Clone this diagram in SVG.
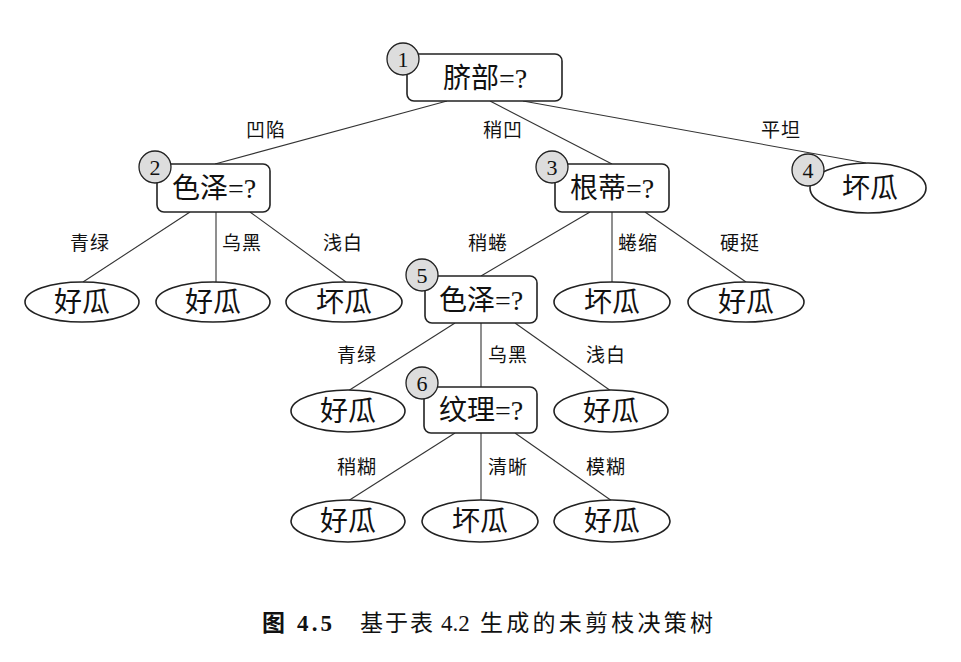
<svg xmlns="http://www.w3.org/2000/svg" width="961" height="662" viewBox="0 0 961 662">
<style>
.box{fill:#fff;stroke:#222;stroke-width:1.6}
.leaf{fill:#fff;stroke:#222;stroke-width:1.6}
.num{fill:#ddd;stroke:#222;stroke-width:1.3}
.numt{font-family:"Liberation Serif",serif;font-size:22px;fill:#111;text-anchor:middle}
.t{font-family:"Liberation Serif","Noto Sans CJK SC",serif;font-size:28px;fill:#111;text-anchor:middle}
.lbl{font-family:"Noto Sans CJK SC",sans-serif;font-size:19px;fill:#111;text-anchor:middle;letter-spacing:1px}
.edge{stroke:#333;stroke-width:1.1;fill:none}
.cap{font-family:"Liberation Serif","Noto Sans CJK SC",serif;font-size:23px;fill:#111}
</style>
<rect width="961" height="662" fill="#fff"/>
<g id="connectors">
<line class="edge" x1="447" y1="101" x2="215" y2="164"/>
<line class="edge" x1="490" y1="101" x2="612" y2="164"/>
<line class="edge" x1="523" y1="101" x2="866" y2="163"/>
<line class="edge" x1="190" y1="212" x2="83" y2="282"/>
<line class="edge" x1="216" y1="212" x2="216" y2="282"/>
<line class="edge" x1="250" y1="212" x2="346" y2="282"/>
<line class="edge" x1="590" y1="212" x2="481" y2="276"/>
<line class="edge" x1="612" y1="212" x2="612" y2="282"/>
<line class="edge" x1="645" y1="212" x2="746" y2="282"/>
<line class="edge" x1="455" y1="323" x2="348" y2="391"/>
<line class="edge" x1="481" y1="323" x2="481" y2="387"/>
<line class="edge" x1="515" y1="323" x2="611" y2="391"/>
<line class="edge" x1="455" y1="433" x2="348" y2="501"/>
<line class="edge" x1="481" y1="433" x2="481" y2="501"/>
<line class="edge" x1="515" y1="433" x2="612" y2="501"/>
<text class="lbl" x="266" y="137">凹陷</text>
<text class="lbl" x="503" y="137">稍凹</text>
<text class="lbl" x="781" y="137">平坦</text>
<text class="lbl" x="90" y="250">青绿</text>
<text class="lbl" x="242" y="250">乌黑</text>
<text class="lbl" x="343" y="250">浅白</text>
<text class="lbl" x="488" y="250">稍蜷</text>
<text class="lbl" x="638" y="250">蜷缩</text>
<text class="lbl" x="740" y="250">硬挺</text>
<text class="lbl" x="357" y="362">青绿</text>
<text class="lbl" x="508" y="362">乌黑</text>
<text class="lbl" x="606" y="362">浅白</text>
<text class="lbl" x="357" y="474">稍糊</text>
<text class="lbl" x="508" y="474">清晰</text>
<text class="lbl" x="606" y="474">模糊</text>
</g>
<g id="n1">
<rect class="box" x="407" y="54" width="155" height="47" rx="7"/>
<text class="t" x="485" y="88">脐部=?</text>
<circle class="num" cx="403" cy="59" r="16"/>
<text class="numt" x="403" y="67">1</text>
</g>
<g id="n2">
<rect class="box" x="157" y="164" width="113" height="48" rx="7"/>
<text class="t" x="214" y="198">色泽=?</text>
<circle class="num" cx="155" cy="167" r="16"/>
<text class="numt" x="155" y="175">2</text>
</g>
<g id="n3">
<rect class="box" x="555" y="164" width="114" height="48" rx="7"/>
<text class="t" x="612" y="198">根蒂=?</text>
<circle class="num" cx="552" cy="167" r="16"/>
<text class="numt" x="552" y="175">3</text>
</g>
<g id="n4">
<ellipse class="leaf" cx="868" cy="188" rx="58" ry="25"/>
<text class="t" x="870" y="198">坏瓜</text>
<circle class="num" cx="808" cy="170" r="16"/>
<text class="numt" x="808" y="178">4</text>
</g>
<g id="l1"><ellipse class="leaf" cx="82" cy="302" rx="57" ry="20"/><text class="t" x="82" y="312">好瓜</text></g>
<g id="l2"><ellipse class="leaf" cx="213" cy="302" rx="57" ry="20"/><text class="t" x="213" y="312">好瓜</text></g>
<g id="l3"><ellipse class="leaf" cx="344" cy="302" rx="58" ry="20"/><text class="t" x="344" y="312">坏瓜</text></g>
<g id="n5">
<rect class="box" x="425" y="276" width="112" height="47" rx="7"/>
<text class="t" x="481" y="310">色泽=?</text>
<circle class="num" cx="422" cy="275" r="16"/>
<text class="numt" x="422" y="283">5</text>
</g>
<g id="l4"><ellipse class="leaf" cx="612" cy="302" rx="58" ry="20"/><text class="t" x="612" y="312">坏瓜</text></g>
<g id="l5"><ellipse class="leaf" cx="746" cy="302" rx="58" ry="20"/><text class="t" x="746" y="312">好瓜</text></g>
<g id="l6"><ellipse class="leaf" cx="348" cy="411" rx="57" ry="21"/><text class="t" x="348" y="421">好瓜</text></g>
<g id="n6">
<rect class="box" x="424" y="387" width="113" height="46" rx="7"/>
<text class="t" x="481" y="420">纹理=?</text>
<circle class="num" cx="422" cy="383" r="16"/>
<text class="numt" x="422" y="391">6</text>
</g>
<g id="l7"><ellipse class="leaf" cx="611" cy="411" rx="57" ry="21"/><text class="t" x="611" y="421">好瓜</text></g>
<g id="l8"><ellipse class="leaf" cx="348" cy="521" rx="57" ry="21"/><text class="t" x="348" y="531">好瓜</text></g>
<g id="l9"><ellipse class="leaf" cx="480" cy="521" rx="58" ry="21"/><text class="t" x="480" y="531">坏瓜</text></g>
<g id="l10"><ellipse class="leaf" cx="612" cy="521" rx="58" ry="21"/><text class="t" x="612" y="531">好瓜</text></g>
<g id="caption">
<text class="cap" x="262" y="631" font-weight="bold" font-size="24" textLength="70" lengthAdjust="spacing">图 4.5</text>
<text class="cap" x="360" y="631" letter-spacing="2">基于表</text>
<text class="cap" x="441" y="631">4.2</text>
<text class="cap" x="480" y="631" textLength="233" lengthAdjust="spacing">生成的未剪枝决策树</text>
</g>
</svg>
